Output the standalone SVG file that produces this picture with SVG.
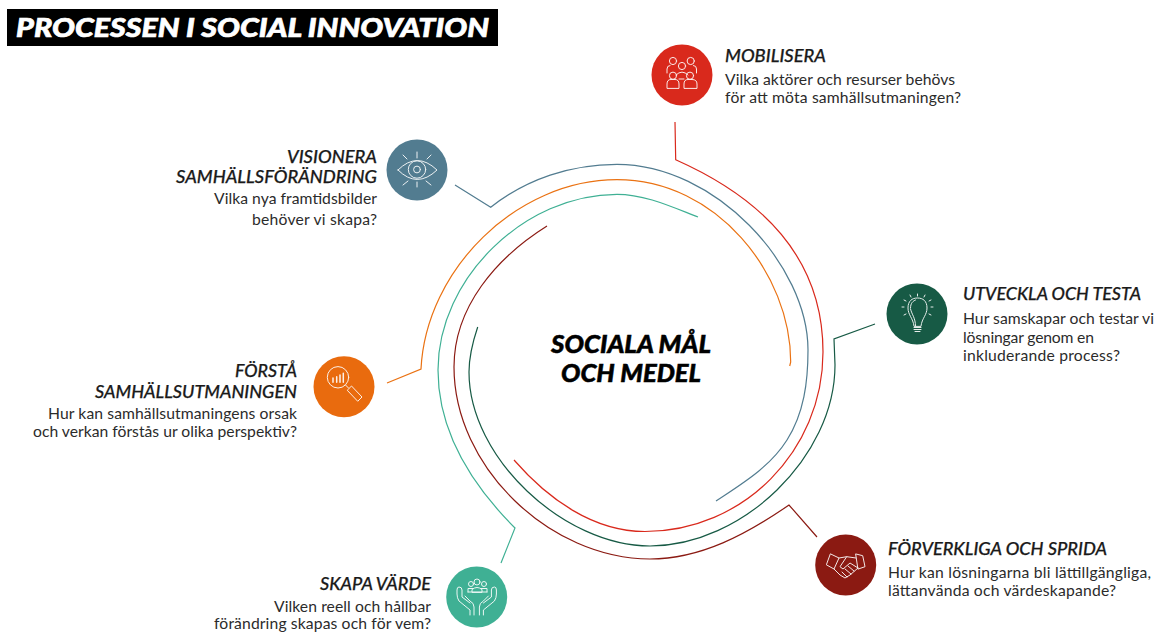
<svg xmlns="http://www.w3.org/2000/svg" width="1158" height="632" viewBox="0 0 1158 632">
<style>
text{font-family:"Lato","Liberation Sans",sans-serif}
.h{font-style:italic;font-weight:500;font-size:17px;fill:#1a1a1a;stroke:#1a1a1a;stroke-width:.25}
.d{font-size:15.7px;fill:#2b2b2b}
.e{text-anchor:end}
.c{font-style:italic;font-weight:900;font-size:25px;fill:#000;stroke:#000;stroke-width:.5;text-anchor:middle}
.r{fill:none;stroke-width:1.2}
.i{fill:none;stroke:#fff;stroke-width:1;stroke-linecap:round;stroke-linejoin:round;opacity:.9}
</style>
<rect width="1158" height="632" fill="#fff"/>
<g id="title"><rect x="7" y="9" width="491" height="37" fill="#000"/>
<text x="16" y="37" font-style="italic" font-weight="900" font-size="27" fill="#fff" stroke="#fff" stroke-width=".7" textLength="473" lengthAdjust="spacingAndGlyphs">PROCESSEN I SOCIAL INNOVATION</text></g>
<g id="connectors">
<path class="r" stroke="#d9291c" d="M675,122L675.7,159.7C762,198 823,258 823,352C823,451 743,531.5 645,531.5C593,531.5 548,499 514,460"/>
<path class="r" stroke="#527c90" d="M455,185L490.7,207.3C526.7,178.8 571.2,164.3 617,164.3C715,164.3 808,265 808,350C808,382 804,413 787,440C770,467 742.5,483.4 716,501"/>
<path class="r" stroke="#ea7213" d="M387,383L421,369C426,269 517,179.7 617,179.7C717,179.7 790.7,274 790.7,362L789.7,366"/>
<path class="r" stroke="#3fb094" d="M501,563L515,528C472,485 438,431 438,370C438,278 525,194.3 617,194.3C645,194.3 672,207 698,217"/>
<path class="r" stroke="#8b1a12" d="M817,537L789,505C747,534 701,559 650,559C550,559 454,467 454,367C454,307 496,258 547,226"/>
<path class="r" stroke="#175a45" d="M875,324L834,339L835,365C835,457 742,546 650,546C564,546 469,458 469,372C469,357 473,341 477.7,327"/>
</g>
<g id="center"><text class="c" x="631" y="353" textLength="160" lengthAdjust="spacingAndGlyphs">SOCIALA MÅL</text><text class="c" x="631" y="382" textLength="140" lengthAdjust="spacingAndGlyphs">OCH MEDEL</text></g>
<g id="mobilisera"><circle cx="682" cy="75" r="30.5" fill="#d9291c"/>
<g class="i"><circle cx="673" cy="61" r="3.6"/><circle cx="690.7" cy="61" r="3.6"/><circle cx="682" cy="66" r="3.6"/><circle cx="673" cy="75.7" r="3.6"/><circle cx="690" cy="75.7" r="3.6"/>
<path d="M667,73V69Q667,65.5 670,65.5M696.5,73V69Q696.5,65.5 693.5,65.5M676,75Q682,69 688,75M667,88V84Q667,79.5 671,79.5H675Q679,79.5 679,84V88ZM684,88V84Q684,79.5 688,79.5H692Q697,79.5 697,84V88ZM679,79H684"/></g>
<text class="h" x="725" y="62" textLength="101" lengthAdjust="spacingAndGlyphs">MOBILISERA</text><text class="d" x="725" y="85" textLength="230">Vilka aktörer och resurser behövs</text><text class="d" x="725" y="103" textLength="236">för att möta samhällsutmaningen?</text></g>
<g id="visionera"><circle cx="417" cy="170" r="30.5" fill="#527c90"/>
<g class="i"><path d="M398,170Q417,151 437,170Q417,189 398,170Z"/><circle cx="417" cy="169.5" r="8.7"/><circle cx="417" cy="169.5" r="3.4"/><path d="M417,152V158M403,155L407,159M431,155L427,159M417,182V187M403,185L408,181M431,185L426,181"/></g>
<text class="h e" x="377" y="163" textLength="90" lengthAdjust="spacingAndGlyphs">VISIONERA</text><text class="h e" x="377" y="183" textLength="201" lengthAdjust="spacingAndGlyphs">SAMHÄLLSFÖRÄNDRING</text><text class="d e" x="377" y="204" textLength="163">Vilka nya framtidsbilder</text><text class="d e" x="377" y="225" textLength="125">behöver vi skapa?</text></g>
<g id="utveckla"><circle cx="917" cy="314" r="30.5" fill="#175a45"/>
<g class="i"><path d="M914,326C913,318 908,315 908,308C908,301 912,298 917.5,298C923,298 927,301 927,308C927,315 922,318 921,326Z"/><path d="M910.5,308C910.5,303 913,301 915.5,300M915.5,326C915.5,318 912,315 910.5,309"/><path d="M914,327.5H921M914,329.5H921M915,331.5H920M917.5,294V296M910,295L911,297M925,295L924,297M904,300L906,301M931,300L929,301M902,307H904M931,307H933M904,315L906,314M931,315L929,314"/></g>
<text class="h" x="963" y="300" textLength="178" lengthAdjust="spacingAndGlyphs">UTVECKLA OCH TESTA</text><text class="d" x="963" y="324" textLength="191">Hur samskapar och testar vi</text><text class="d" x="963" y="343" textLength="131">lösningar genom en</text><text class="d" x="963" y="361" textLength="157">inkluderande process?</text></g>
<g id="forverkliga"><circle cx="845.7" cy="565" r="30.5" fill="#8b1a12"/>
<g class="i"><path d="M830.7,554L839,558L834,569L826.7,565ZM856,554L862.7,555.7L865,566.7L858.3,569Z"/><path d="M839,558L846.7,556.7L856,558M858,568L850,575L845,578L840,575L834,569M846.7,556.7L840,566.7L843,569L850,563L858,568M854,571L848,566M851,574L845,569M847,577L842,572"/></g>
<text class="h" x="888" y="555" textLength="219" lengthAdjust="spacingAndGlyphs">FÖRVERKLIGA OCH SPRIDA</text><text class="d" x="888" y="578" textLength="263">Hur kan lösningarna bli lättillgängliga,</text><text class="d" x="888" y="596" textLength="228">lättanvända och värdeskapande?</text></g>
<g id="skapa"><circle cx="476.7" cy="597" r="30.5" fill="#3fb094"/>
<g class="i"><circle cx="471" cy="584" r="2.5"/><circle cx="477" cy="582" r="3"/><circle cx="484" cy="584" r="2.5"/><path d="M468,592V588.5H473M481,588.5H487V592M472,592V589.5Q477,585.5 482,589.5V592ZM468,592H487"/>
<path d="M470,615V610L459,601Q457,598 457,594V590Q457,587 459,587Q462,587 462,590V597L470,603M474,615V607Q474,603 470,601L465,596"/><path transform="translate(953.4,0) scale(-1,1)" d="M470,615V610L459,601Q457,598 457,594V590Q457,587 459,587Q462,587 462,590V597L470,603M474,615V607Q474,603 470,601L465,596"/></g>
<text class="h e" x="431" y="590" textLength="111" lengthAdjust="spacingAndGlyphs">SKAPA VÄRDE</text><text class="d e" x="431" y="612" textLength="157">Vilken reell och hållbar</text><text class="d e" x="431" y="629" textLength="217">förändring skapas och för vem?</text></g>
<g id="forsta"><circle cx="344" cy="386.7" r="30.5" fill="#e96b0e"/>
<g class="i"><circle cx="338" cy="377.3" r="10.7"/><path d="M345.5,385L348.5,388M347.5,390L351.5,386L362,397L358,401Z"/><path d="M333,382.3V378M336.7,382.3V376.7M340,382.3V375M343.3,382.3V373.3" stroke-width="1.5"/></g>
<text class="h e" x="297" y="377" textLength="62" lengthAdjust="spacingAndGlyphs">FÖRSTÅ</text><text class="h e" x="297" y="398" textLength="202" lengthAdjust="spacingAndGlyphs">SAMHÄLLSUTMANINGEN</text><text class="d e" x="297" y="419" textLength="249">Hur kan samhällsutmaningens orsak</text><text class="d e" x="297" y="437" textLength="264">och verkan förstås ur olika perspektiv?</text></g>
</svg>
